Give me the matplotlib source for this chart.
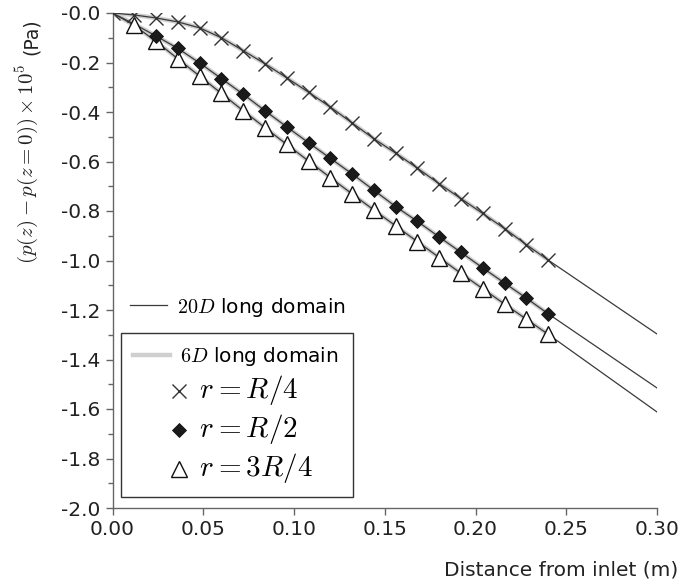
import matplotlib
matplotlib.use('Agg')
import numpy as np
import matplotlib.pyplot as plt
from matplotlib.lines import Line2D
from matplotlib.legend_handler import HandlerLine2D
from matplotlib.ticker import MultipleLocator, FuncFormatter

plt.rcParams['font.family'] = 'DejaVu Sans'
plt.rcParams['mathtext.fontset'] = 'cm'
plt.rcParams['font.size'] = 14.5

# distance from inlet (m), sampled every 0.012 m up to the end of the 6D domain
x_pts = [0.000, 0.012, 0.024, 0.036, 0.048, 0.060, 0.072, 0.084, 0.096, 0.108, 0.120,
         0.132, 0.144, 0.156, 0.168, 0.180, 0.192, 0.204, 0.216, 0.228, 0.240]
x_end = 0.30

# (p(z) - p(0)) * 1e5 (Pa)
p_r4 = [0.000, -0.008, -0.020, -0.036, -0.060, -0.100, -0.152, -0.205, -0.262, -0.320, -0.380,
        -0.444, -0.508, -0.566, -0.627, -0.690, -0.750, -0.810, -0.871, -0.936, -0.998]
p_r2 = [0.000, -0.045, -0.093, -0.143, -0.202, -0.265, -0.328, -0.395, -0.460, -0.524, -0.587,
        -0.650, -0.716, -0.782, -0.842, -0.905, -0.967, -1.030, -1.091, -1.152, -1.215]
p_3r4 = [0.000, -0.050, -0.115, -0.185, -0.255, -0.325, -0.395, -0.463, -0.531, -0.598, -0.665,
         -0.731, -0.796, -0.860, -0.924, -0.988, -1.052, -1.114, -1.176, -1.237, -1.298]
# values at the end of the 20D domain (0.30 m)
p_end = {'r4': -1.297, 'r2': -1.515, '3r4': -1.612}

series = [('r4', p_r4, 'x', 0), ('r2', p_r2, 'D', 2), ('3r4', p_3r4, '^', 1)]


class MarkerRight(HandlerLine2D):
    # single marker sits right of the handle centre, as in the original legend
    def get_xdata(self, legend, xdescent, ydescent, width, height, fontsize):
        xdata, xmark = super().get_xdata(legend, xdescent, ydescent, width, height, fontsize)
        shift = 0.74 * width
        return np.asarray(xdata) + shift, np.asarray(xmark) + shift


fig = plt.figure(figsize=(6.8, 5.85), dpi=100)
ax = fig.add_axes([112.5 / 680, 1 - 508 / 585, 544.5 / 680, 495 / 585])

mstyle = {
    'x': dict(marker='x', ms=9.5, mew=1.0, color='#333333', ls='none'),
    'D': dict(marker='D', ms=6.8, mew=0.6, mfc='#1a1a1a', mec='#111111', ls='none'),
    '^': dict(marker='^', ms=12, mew=1.0, mfc='white', mec='#111111', ls='none'),
}
zord = {'x': 5, 'D': 6, '^': 4}

for key, vals, mk, start in series:
    # 6D long domain (thick light grey)
    ax.plot(x_pts, vals, color='#cfcfcf', lw=3.2, zorder=2, solid_capstyle='butt')
    # 20D long domain (thin dark)
    ax.plot(x_pts + [x_end], vals + [p_end[key]], color='#3a3a3a', lw=0.9, zorder=3)
    ax.plot(x_pts[start:], vals[start:], zorder=zord[mk], **mstyle[mk])

ax.set_xlim(0, 0.30)
ax.set_ylim(-2.0, 0.0)
ax.xaxis.set_major_locator(MultipleLocator(0.05))
ax.yaxis.set_major_locator(MultipleLocator(0.2))
ax.yaxis.set_minor_locator(MultipleLocator(0.1))
ax.xaxis.set_major_formatter(FuncFormatter(lambda v, _: '%.2f' % v))
ax.yaxis.set_major_formatter(FuncFormatter(lambda v, _: '-%.1f' % abs(v)))

for s in ['top', 'right']:
    ax.spines[s].set_visible(False)
for s in ['left', 'bottom']:
    ax.spines[s].set_color('#666666')
    ax.spines[s].set_linewidth(1.0)
ax.tick_params(which='both', direction='out', color='#666666', labelcolor='#222222')
ax.tick_params(which='major', length=5, width=1.0, labelsize=14.5)
ax.tick_params(which='minor', length=3.5, width=1.0)

fig.text(678 / 680, 1 - 570 / 585, 'Distance from inlet (m)', ha='right', va='center',
         fontsize=14.5, color='#222222')
fig.text(27 / 680, 1 - 164 / 585, r'$(p(z)-p(z=0))\times10^5$', rotation=90,
         ha='center', va='center', fontsize=15, color='#222222')
fig.text(31 / 680, 1 - 37 / 585, '(Pa)', rotation=90,
         ha='center', va='center', fontsize=13.5, color='#222222')

# legends
h20 = Line2D([], [], color='#3a3a3a', lw=0.9)
leg1 = ax.legend([h20], [r'$20D$ long domain'], loc='center left',
                 bbox_to_anchor=(0.018, 0.406), borderaxespad=0, frameon=False,
                 handlelength=1.8, handletextpad=0.5, fontsize=14.5)
ax.add_artist(leg1)

h6 = Line2D([], [], color='#cfcfcf', lw=3.2)
hx = Line2D([], [], **mstyle['x'])
hd = Line2D([], [], **mstyle['D'])
ht = Line2D([], [], **mstyle['^'])
leg2 = ax.legend([h6, hx, hd, ht],
                 [r'$6D$ long domain', r'$\enspace\;r = R/4$', r'$\enspace\;r = R/2$',
                  r'$\enspace\;r = 3R/4$'],
                 loc='upper left', bbox_to_anchor=(0.0156, 0.3535), borderaxespad=0,
                 handlelength=1.85, handletextpad=0.5, labelspacing=0.25, borderpad=0.6,
                 fancybox=False, framealpha=1, edgecolor='#333333', fontsize=14.5,
                 numpoints=1,
                 handler_map={hx: MarkerRight(), hd: MarkerRight(), ht: MarkerRight()})
leg2.get_frame().set_linewidth(1.0)
for t in leg2.get_texts()[1:]:
    t.set_fontsize(21)
leg2.get_texts()[0].set_text(r'$6D$ long domain ')

fig.savefig('out.png', dpi=100)
